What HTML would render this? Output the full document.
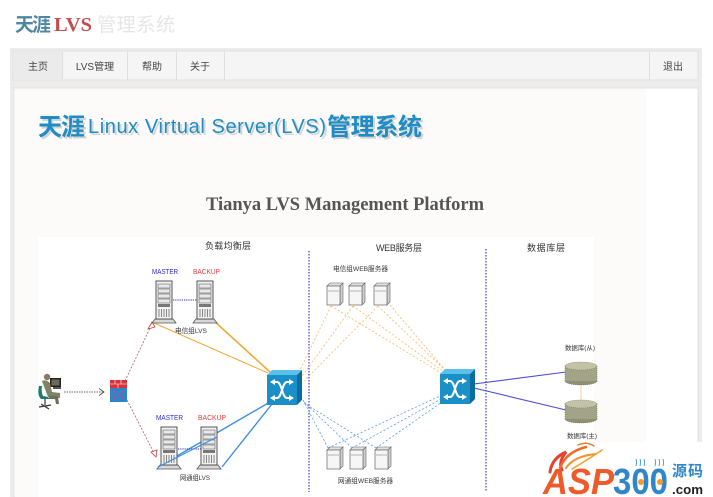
<!DOCTYPE html>
<html><head><meta charset="utf-8"><style>
html,body{margin:0;padding:0;width:713px;height:497px;overflow:hidden;background:#fff;}
svg{position:absolute;left:0;top:0;}
</style></head><body>
<svg width="713" height="497" viewBox="0 0 713 497" xmlns="http://www.w3.org/2000/svg" font-family="Liberation Sans, Noto Sans CJK SC, sans-serif">
<defs>
<g id="tower">
 <polygon points="-3,42 21,42 18,38 0,38" fill="#d8d8d8" stroke="#555" stroke-width="0.8"/>
 <rect x="1" y="0" width="16" height="38" fill="#f2f2f2" stroke="#444" stroke-width="0.9"/>
 <rect x="3" y="3" width="12" height="4" fill="#e8e8e8" stroke="#666" stroke-width="0.6"/>
 <rect x="3" y="8" width="12" height="4" fill="#e8e8e8" stroke="#666" stroke-width="0.6"/>
 <rect x="3" y="13" width="12" height="4" fill="#e8e8e8" stroke="#666" stroke-width="0.6"/>
 <rect x="3" y="18" width="12" height="4" fill="#e8e8e8" stroke="#666" stroke-width="0.6"/>
 <rect x="3" y="23" width="12" height="3" fill="#777"/>
 <g stroke="#555" stroke-width="0.7"><line x1="4" y1="28" x2="4" y2="36"/><line x1="6.5" y1="28" x2="6.5" y2="36"/><line x1="9" y1="28" x2="9" y2="36"/><line x1="11.5" y1="28" x2="11.5" y2="36"/><line x1="14" y1="28" x2="14" y2="36"/></g>
</g>
<g id="web">
 <polygon points="0,3 3,0 16,0 13,3" fill="#e0e0e0" stroke="#666" stroke-width="0.6"/>
 <polygon points="13,3 16,0 16,19 13,22" fill="#cfcfcf" stroke="#666" stroke-width="0.6"/>
 <rect x="0" y="3" width="13" height="19" fill="#f6f6f6" stroke="#666" stroke-width="0.7"/>
 <line x1="1" y1="8" x2="12" y2="8" stroke="#888" stroke-width="0.6"/>
</g>
<g id="switch">
 <polygon points="0,5 5,0 35,0 30,5" fill="#5cc0ec"/>
 <polygon points="30,5 35,0 35,30 30,35" fill="#0c6c9c"/>
 <rect x="0" y="5" width="30" height="30" fill="#1a90c8"/>
 <g stroke="#fff" stroke-width="2" fill="none">
  <path d="M5,12 H10 C15,12 15,28 20,28 H25"/>
  <path d="M5,28 H10 C15,28 15,12 20,12 H25"/>
 </g>
 <g fill="#fff">
  <polygon points="27,12 22,9 22,15"/><polygon points="27,28 22,25 22,31"/>
  <polygon points="3,12 8,9 8,15"/><polygon points="3,28 8,25 8,31"/>
 </g>
</g>
<g id="cyl">
 <ellipse cx="16" cy="19" rx="16" ry="4" fill="#8f8f74" stroke="#666" stroke-width="0.5" stroke-dasharray="1,1"/>
 <rect x="0" y="4" width="32" height="15" fill="#a3a387"/>
 <ellipse cx="16" cy="4" rx="16" ry="4" fill="#c2c2a6" stroke="#666" stroke-width="0.5" stroke-dasharray="1,1"/>
 <line x1="0" y1="4" x2="0" y2="19" stroke="#666" stroke-width="0.5" stroke-dasharray="1,1"/>
 <line x1="32" y1="4" x2="32" y2="19" stroke="#666" stroke-width="0.5" stroke-dasharray="1,1"/>
</g>
</defs>

<!-- top title -->
<text x="15" y="31" font-size="19" font-weight="bold" fill="#4f87a3" textLength="36">天涯</text>
<text x="54" y="31" font-size="20" font-weight="bold" fill="#c0504d" font-family="Liberation Serif, serif" textLength="38" lengthAdjust="spacingAndGlyphs">LVS</text>
<text x="97" y="31" font-size="19" fill="#e6e6e6" textLength="78">管理系统</text>

<!-- outer frame -->
<rect x="10" y="48" width="692" height="449" fill="#ececec"/>
<rect x="13" y="51" width="685" height="29" fill="#f5f5f5" stroke="#e0e0e0" stroke-width="1"/>
<rect x="14" y="52" width="48" height="28" fill="#ebebeb"/>
<g stroke="#dedede" stroke-width="1">
 <line x1="62.5" y1="52" x2="62.5" y2="80"/>
 <line x1="127.5" y1="52" x2="127.5" y2="80"/>
 <line x1="176.5" y1="52" x2="176.5" y2="80"/>
 <line x1="224.5" y1="52" x2="224.5" y2="80"/>
 <line x1="649.5" y1="52" x2="649.5" y2="80"/>
</g>
<g font-size="10" fill="#444" text-anchor="middle">
 <text x="38" y="70">主页</text>
 <text x="95" y="70">LVS管理</text>
 <text x="152" y="70">帮助</text>
 <text x="200" y="70">关于</text>
 <text x="673" y="70">退出</text>
</g>

<!-- content panel -->
<rect x="14" y="88" width="684" height="409" fill="#ffffff" stroke="#e2e2e2" stroke-width="1"/>
<rect x="15" y="89" width="631" height="408" fill="#fcfbf9"/>

<!-- blue heading -->
<g fill="#d4d4d4">
 <text x="40" y="137" font-size="24" font-weight="bold" textLength="47">天涯</text>
 <text x="90" y="135" font-size="20" textLength="238">Linux Virtual Server(LVS)</text>
 <text x="329" y="137" font-size="24" font-weight="bold" textLength="95">管理系统</text>
</g>
<g fill="#1e8cc5">
 <text x="38" y="135" font-size="24" font-weight="bold" textLength="47">天涯</text>
 <text x="88" y="133" font-size="20" textLength="238">Linux Virtual Server(LVS)</text>
 <text x="327" y="135" font-size="24" font-weight="bold" textLength="95">管理系统</text>
</g>

<text x="206" y="210" font-size="19" font-weight="bold" fill="#555" font-family="Liberation Serif, serif" textLength="278" lengthAdjust="spacingAndGlyphs">Tianya LVS Management Platform</text>

<!-- diagram white area -->
<rect x="38" y="237" width="556" height="260" fill="#ffffff"/>

<g font-size="9" fill="#333">
 <text x="205" y="249" textLength="46">负载均衡层</text>
 <text x="376" y="251" textLength="46">WEB服务层</text>
 <text x="527" y="251" textLength="38">数据库层</text>
</g>

<!-- dividers -->
<g stroke="#3a3ad0" stroke-width="1.2" stroke-dasharray="1.5,1.5">
 <line x1="309" y1="251" x2="309" y2="492"/>
 <line x1="486" y1="249" x2="486" y2="492"/>
</g>

<!-- orange dashed web lines -->
<g stroke="#f3b860" stroke-width="0.8" stroke-dasharray="2,2" fill="none">
 <line x1="331" y1="306" x2="299" y2="372"/>
 <line x1="331" y1="306" x2="443" y2="374"/>
 <line x1="353" y1="306" x2="302" y2="376"/>
 <line x1="353" y1="306" x2="444" y2="372"/>
 <line x1="378" y1="306" x2="304" y2="381"/>
 <line x1="378" y1="306" x2="447" y2="372"/>
 <line x1="390" y1="305" x2="446" y2="371"/>
</g>
<!-- blue dashed web lines -->
<g stroke="#5a9ae6" stroke-width="0.8" stroke-dasharray="2,2" fill="none">
 <line x1="328" y1="448" x2="302" y2="398"/>
 <line x1="352" y1="448" x2="303" y2="401"/>
 <line x1="376" y1="448" x2="304" y2="403"/>
 <line x1="328" y1="448" x2="440" y2="396"/>
 <line x1="352" y1="448" x2="441" y2="399"/>
 <line x1="376" y1="448" x2="442" y2="402"/>
</g>

<!-- orange solid lines -->
<g stroke="#efaa36" fill="none">
 <line x1="154" y1="323" x2="268" y2="373" stroke-width="1"/>
 <line x1="214" y1="321" x2="270" y2="372" stroke-width="1.6"/>
</g>
<!-- blue solid lines -->
<g stroke="#3f8ee2" stroke-width="1.4" fill="none">
 <line x1="270" y1="402" x2="158" y2="467"/>
 <line x1="272" y1="404" x2="222" y2="467"/>
</g>
<!-- red dashed arrows -->
<g stroke="#b06060" stroke-width="0.8" stroke-dasharray="2,1.5" fill="none">
 <line x1="125" y1="381" x2="151" y2="326"/>
 <line x1="127" y1="400" x2="154" y2="453"/>
</g>
<polygon points="152,322 148,329 155,327" fill="#fff" stroke="#c04040" stroke-width="0.8"/>
<polygon points="156,457 151,452 157,450" fill="#fff" stroke="#c04040" stroke-width="0.8"/>
<!-- gray dotted arrow -->
<line x1="64" y1="392" x2="103" y2="392" stroke="#666" stroke-width="1" stroke-dasharray="1.5,1"/>
<polyline points="99,388.5 104,392 99,395.5" fill="none" stroke="#555" stroke-width="0.9"/>

<!-- purple lines -->
<g stroke="#4c4cd0" stroke-width="1.1">
 <line x1="474" y1="384" x2="566" y2="372"/>
 <line x1="474" y1="388" x2="566" y2="410"/>
</g>
<line x1="581" y1="384" x2="581" y2="400" stroke="#f3c890" stroke-width="0.8"/>

<!-- LVS servers -->
<g font-size="7">
 <text x="152" y="274" fill="#2a2ad8" textLength="26" lengthAdjust="spacingAndGlyphs">MASTER</text>
 <text x="193" y="274" fill="#e83a3a" textLength="27" lengthAdjust="spacingAndGlyphs">BACKUP</text>
 <text x="156" y="420" fill="#2a2ad8" textLength="27" lengthAdjust="spacingAndGlyphs">MASTER</text>
 <text x="198" y="420" fill="#e83a3a" textLength="28" lengthAdjust="spacingAndGlyphs">BACKUP</text>
</g>
<use href="#tower" x="155" y="281"/>
<use href="#tower" x="196" y="281"/>
<line x1="173" y1="300" x2="197" y2="300" stroke="#2a2ab0" stroke-width="1" stroke-dasharray="1.2,1"/>
<text x="175" y="333" font-size="6.6" fill="#333" textLength="32" lengthAdjust="spacingAndGlyphs">电信组LVS</text>
<use href="#tower" x="160" y="427"/>
<use href="#tower" x="200" y="427"/>
<line x1="178" y1="449" x2="201" y2="449" stroke="#2a2ab0" stroke-width="1" stroke-dasharray="1.2,1"/>
<line x1="158" y1="467" x2="217" y2="437" stroke="#3f8ee2" stroke-width="1.2"/>
<text x="180" y="480" font-size="6.6" fill="#333" textLength="30" lengthAdjust="spacingAndGlyphs">网通组LVS</text>

<!-- switches -->
<use href="#switch" x="267" y="370"/>
<use href="#switch" x="440" y="369"/>

<!-- web servers -->
<text x="333" y="271" font-size="6.6" fill="#333" textLength="55" lengthAdjust="spacingAndGlyphs">电信组WEB服务器</text>
<use href="#web" x="327" y="283"/>
<use href="#web" x="349" y="283"/>
<use href="#web" x="374" y="283"/>
<use href="#web" x="327" y="447"/>
<use href="#web" x="350" y="447"/>
<use href="#web" x="375" y="447"/>
<text x="338" y="483" font-size="6.6" fill="#333" textLength="55" lengthAdjust="spacingAndGlyphs">网通组WEB服务器</text>

<!-- DB -->
<text x="565" y="350" font-size="6.4" fill="#333" textLength="30" lengthAdjust="spacingAndGlyphs">数据库(从)</text>
<use href="#cyl" x="565" y="362"/>
<use href="#cyl" x="565" y="400"/>
<text x="567" y="438" font-size="6.4" fill="#333" textLength="30" lengthAdjust="spacingAndGlyphs">数据库(主)</text>

<!-- person -->
<g>
 <rect x="50" y="378" width="11" height="9" fill="#222"/>
 <rect x="51.5" y="379.5" width="8" height="6" fill="#6b6b5a"/>
 <rect x="53" y="387" width="8" height="2" fill="#555"/>
 <circle cx="47" cy="377" r="3.2" fill="#8a7a60"/>
 <path d="M42,381 Q46,379 50,383 L52,392 L60,393 L60,398 L48,397 Z" fill="#7d8268"/>
 <path d="M50,396 L58,396 L59,404 L56,404 L55,399 L48,399 Z" fill="#6c7058"/>
 <path d="M39,386 Q37,395 41,399 L49,399 L48,397 L43,396 Q41,392 42,386 Z" fill="#1f7a6a"/>
 <line x1="45" y1="399" x2="45" y2="405" stroke="#333" stroke-width="1.2"/>
 <line x1="39" y1="407" x2="51" y2="405" stroke="#333" stroke-width="1.2"/>
 <line x1="41" y1="404" x2="49" y2="409" stroke="#333" stroke-width="1.2"/>
</g>

<!-- firewall -->
<rect x="110" y="380" width="17" height="8" fill="#d8323a"/>
<g stroke="#fff" stroke-width="0.6"><line x1="110" y1="384" x2="127" y2="384"/><line x1="115" y1="380" x2="115" y2="384"/><line x1="121" y1="380" x2="121" y2="384"/><line x1="118" y1="384" x2="118" y2="388"/></g>
<rect x="110" y="388" width="17" height="14" fill="#2a86c8"/>
<g fill="#c04a8a"><circle cx="114" cy="392" r="1.3"/><circle cx="122" cy="392" r="1.3"/><circle cx="118" cy="395" r="1.3"/><circle cx="114" cy="398" r="1.3"/><circle cx="122" cy="398" r="1.3"/></g>

<!-- logo watermark -->
<rect x="540" y="442" width="173" height="55" fill="#ffffff"/>
<g fill="none" stroke-linecap="round">
 <path d="M550,472 Q552,458 566,452 Q558,462 562,470" stroke="#e8402a" stroke-width="3"/>
 <path d="M560,468 Q566,452 586,447" stroke="#f06a2a" stroke-width="2.5"/>
 <path d="M566,468 Q574,456 596,454" stroke="#f4902a" stroke-width="2"/>
 <path d="M572,469 Q584,462 602,450" stroke="#f6a030" stroke-width="1.6"/>
 <path d="M578,445 Q586,441 594,446" stroke="#f07a2a" stroke-width="1.5"/>
</g>
<text x="543" y="494" font-size="36" font-weight="bold" font-style="italic" fill="#ee5a28" textLength="71" lengthAdjust="spacingAndGlyphs">ASP</text>
<text x="613" y="494" font-size="36" font-weight="bold" fill="#2f86c8" textLength="55" lengthAdjust="spacingAndGlyphs">300</text>
<circle cx="641" cy="482" r="3" fill="#f59a30"/><circle cx="660" cy="482" r="3" fill="#f59a30"/>
<g stroke="#2f86c8" stroke-width="0.8" fill="none">
 <path d="M636,466 q1,-4 0,-7 M640,466 q1,-4 0,-7 M644,466 q1,-4 0,-7"/>
 <path d="M655,466 q1,-4 0,-7 M659,466 q1,-4 0,-7 M663,466 q1,-4 0,-7"/>
</g>
<text x="672" y="476" font-size="15" font-weight="bold" fill="#2f86c8" textLength="31">源码</text>
<text x="672" y="494" font-size="13" font-weight="bold" fill="#222" textLength="31" lengthAdjust="spacingAndGlyphs">.com</text>
</svg>
</body></html>
